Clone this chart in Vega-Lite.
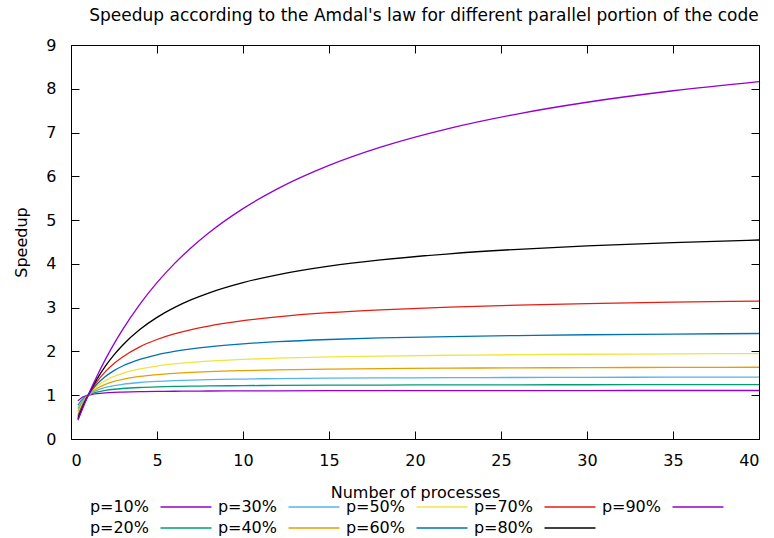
{
  "$schema": "https://vega.github.io/schema/vega-lite/v6.json",
  "width": 688,
  "height": 394,
  "autosize": {"type": "none"},
  "padding": {"left": 71, "top": 45, "right": 15, "bottom": 99},
  "background": "white",
  "config": {
    "font": "DejaVu Sans",
    "view": {"stroke": "black", "strokeWidth": 1},
    "axis": {"grid": false, "domain": false, "tickColor": "black", "tickSize": -8, "tickWidth": 1, "labelFontSize": 16, "labelColor": "black", "titleFontSize": 16, "titleFontWeight": "normal", "titleColor": "black", "labelFont": "DejaVu Sans", "titleFont": "DejaVu Sans"},
    "legend": {"labelFont": "DejaVu Sans"}
  },
  "title": {"text": "Speedup according to the Amdal's law  for different parallel portion of the code", "fontSize": 17, "fontWeight": "normal", "font": "DejaVu Sans", "color": "black", "anchor": "middle", "frame": "group", "baseline": "alphabetic", "offset": -1, "dx": 9},
  "data": {"values": [
    {"x":0.404,"p":"p=10%","s":0.8714},{"x":0.6,"p":"p=10%","s":0.9375},{"x":0.8,"p":"p=10%","s":0.9756},{"x":1,"p":"p=10%","s":1},{"x":1.25,"p":"p=10%","s":1.0204},{"x":1.5,"p":"p=10%","s":1.0345},{"x":2,"p":"p=10%","s":1.0526},{"x":2.5,"p":"p=10%","s":1.0638},{"x":3,"p":"p=10%","s":1.0714},{"x":4,"p":"p=10%","s":1.0811},{"x":5,"p":"p=10%","s":1.087},{"x":6,"p":"p=10%","s":1.0909},{"x":7,"p":"p=10%","s":1.0938},{"x":8,"p":"p=10%","s":1.0959},{"x":10,"p":"p=10%","s":1.0989},{"x":12,"p":"p=10%","s":1.1009},{"x":15,"p":"p=10%","s":1.1029},{"x":18,"p":"p=10%","s":1.1043},{"x":22,"p":"p=10%","s":1.1055},{"x":26,"p":"p=10%","s":1.1064},{"x":30,"p":"p=10%","s":1.107},{"x":35,"p":"p=10%","s":1.1076},{"x":40,"p":"p=10%","s":1.108},
    {"x":0.404,"p":"p=20%","s":0.7722},{"x":0.6,"p":"p=20%","s":0.8824},{"x":0.8,"p":"p=20%","s":0.9524},{"x":1,"p":"p=20%","s":1},{"x":1.25,"p":"p=20%","s":1.0417},{"x":1.5,"p":"p=20%","s":1.0714},{"x":2,"p":"p=20%","s":1.1111},{"x":2.5,"p":"p=20%","s":1.1364},{"x":3,"p":"p=20%","s":1.1538},{"x":4,"p":"p=20%","s":1.1765},{"x":5,"p":"p=20%","s":1.1905},{"x":6,"p":"p=20%","s":1.2},{"x":7,"p":"p=20%","s":1.2069},{"x":8,"p":"p=20%","s":1.2121},{"x":10,"p":"p=20%","s":1.2195},{"x":12,"p":"p=20%","s":1.2245},{"x":15,"p":"p=20%","s":1.2295},{"x":18,"p":"p=20%","s":1.2329},{"x":22,"p":"p=20%","s":1.236},{"x":26,"p":"p=20%","s":1.2381},{"x":30,"p":"p=20%","s":1.2397},{"x":35,"p":"p=20%","s":1.2411},{"x":40,"p":"p=20%","s":1.2422},
    {"x":0.404,"p":"p=30%","s":0.6932},{"x":0.6,"p":"p=30%","s":0.8333},{"x":0.8,"p":"p=30%","s":0.9302},{"x":1,"p":"p=30%","s":1},{"x":1.25,"p":"p=30%","s":1.0638},{"x":1.5,"p":"p=30%","s":1.1111},{"x":2,"p":"p=30%","s":1.1765},{"x":2.5,"p":"p=30%","s":1.2195},{"x":3,"p":"p=30%","s":1.25},{"x":4,"p":"p=30%","s":1.2903},{"x":5,"p":"p=30%","s":1.3158},{"x":6,"p":"p=30%","s":1.3333},{"x":7,"p":"p=30%","s":1.3462},{"x":8,"p":"p=30%","s":1.3559},{"x":10,"p":"p=30%","s":1.3699},{"x":12,"p":"p=30%","s":1.3793},{"x":15,"p":"p=30%","s":1.3889},{"x":18,"p":"p=30%","s":1.3953},{"x":22,"p":"p=30%","s":1.4013},{"x":26,"p":"p=30%","s":1.4054},{"x":30,"p":"p=30%","s":1.4085},{"x":35,"p":"p=30%","s":1.4113},{"x":40,"p":"p=30%","s":1.4134},
    {"x":0.404,"p":"p=40%","s":0.6289},{"x":0.6,"p":"p=40%","s":0.7895},{"x":0.8,"p":"p=40%","s":0.9091},{"x":1,"p":"p=40%","s":1},{"x":1.25,"p":"p=40%","s":1.087},{"x":1.5,"p":"p=40%","s":1.1538},{"x":2,"p":"p=40%","s":1.25},{"x":2.5,"p":"p=40%","s":1.3158},{"x":3,"p":"p=40%","s":1.3636},{"x":4,"p":"p=40%","s":1.4286},{"x":5,"p":"p=40%","s":1.4706},{"x":6,"p":"p=40%","s":1.5},{"x":7,"p":"p=40%","s":1.5217},{"x":8,"p":"p=40%","s":1.5385},{"x":10,"p":"p=40%","s":1.5625},{"x":12,"p":"p=40%","s":1.5789},{"x":15,"p":"p=40%","s":1.5957},{"x":18,"p":"p=40%","s":1.6071},{"x":22,"p":"p=40%","s":1.6176},{"x":26,"p":"p=40%","s":1.625},{"x":30,"p":"p=40%","s":1.6304},{"x":35,"p":"p=40%","s":1.6355},{"x":40,"p":"p=40%","s":1.6393},
    {"x":0.404,"p":"p=50%","s":0.5755},{"x":0.6,"p":"p=50%","s":0.75},{"x":0.8,"p":"p=50%","s":0.8889},{"x":1,"p":"p=50%","s":1},{"x":1.25,"p":"p=50%","s":1.1111},{"x":1.5,"p":"p=50%","s":1.2},{"x":2,"p":"p=50%","s":1.3333},{"x":2.5,"p":"p=50%","s":1.4286},{"x":3,"p":"p=50%","s":1.5},{"x":4,"p":"p=50%","s":1.6},{"x":5,"p":"p=50%","s":1.6667},{"x":6,"p":"p=50%","s":1.7143},{"x":7,"p":"p=50%","s":1.75},{"x":8,"p":"p=50%","s":1.7778},{"x":10,"p":"p=50%","s":1.8182},{"x":12,"p":"p=50%","s":1.8462},{"x":15,"p":"p=50%","s":1.875},{"x":18,"p":"p=50%","s":1.8947},{"x":22,"p":"p=50%","s":1.913},{"x":26,"p":"p=50%","s":1.9259},{"x":30,"p":"p=50%","s":1.9355},{"x":35,"p":"p=50%","s":1.9444},{"x":40,"p":"p=50%","s":1.9512},
    {"x":0.404,"p":"p=60%","s":0.5305},{"x":0.6,"p":"p=60%","s":0.7143},{"x":0.8,"p":"p=60%","s":0.8696},{"x":1,"p":"p=60%","s":1},{"x":1.25,"p":"p=60%","s":1.1364},{"x":1.5,"p":"p=60%","s":1.25},{"x":2,"p":"p=60%","s":1.4286},{"x":2.5,"p":"p=60%","s":1.5625},{"x":3,"p":"p=60%","s":1.6667},{"x":4,"p":"p=60%","s":1.8182},{"x":5,"p":"p=60%","s":1.9231},{"x":6,"p":"p=60%","s":2},{"x":7,"p":"p=60%","s":2.0588},{"x":8,"p":"p=60%","s":2.1053},{"x":10,"p":"p=60%","s":2.1739},{"x":12,"p":"p=60%","s":2.2222},{"x":15,"p":"p=60%","s":2.2727},{"x":18,"p":"p=60%","s":2.3077},{"x":22,"p":"p=60%","s":2.3404},{"x":26,"p":"p=60%","s":2.3636},{"x":30,"p":"p=60%","s":2.381},{"x":35,"p":"p=60%","s":2.3973},{"x":40,"p":"p=60%","s":2.4096},
    {"x":0.404,"p":"p=70%","s":0.492},{"x":0.6,"p":"p=70%","s":0.6818},{"x":0.8,"p":"p=70%","s":0.8511},{"x":1,"p":"p=70%","s":1},{"x":1.25,"p":"p=70%","s":1.1628},{"x":1.5,"p":"p=70%","s":1.3043},{"x":2,"p":"p=70%","s":1.5385},{"x":2.5,"p":"p=70%","s":1.7241},{"x":3,"p":"p=70%","s":1.875},{"x":4,"p":"p=70%","s":2.1053},{"x":5,"p":"p=70%","s":2.2727},{"x":6,"p":"p=70%","s":2.4},{"x":7,"p":"p=70%","s":2.5},{"x":8,"p":"p=70%","s":2.5806},{"x":10,"p":"p=70%","s":2.7027},{"x":12,"p":"p=70%","s":2.7907},{"x":15,"p":"p=70%","s":2.8846},{"x":18,"p":"p=70%","s":2.9508},{"x":22,"p":"p=70%","s":3.0137},{"x":26,"p":"p=70%","s":3.0588},{"x":30,"p":"p=70%","s":3.0928},{"x":35,"p":"p=70%","s":3.125},{"x":40,"p":"p=70%","s":3.1496},
    {"x":0.404,"p":"p=80%","s":0.4587},{"x":0.6,"p":"p=80%","s":0.6522},{"x":0.8,"p":"p=80%","s":0.8333},{"x":1,"p":"p=80%","s":1},{"x":1.25,"p":"p=80%","s":1.1905},{"x":1.5,"p":"p=80%","s":1.3636},{"x":2,"p":"p=80%","s":1.6667},{"x":2.5,"p":"p=80%","s":1.9231},{"x":3,"p":"p=80%","s":2.1429},{"x":4,"p":"p=80%","s":2.5},{"x":5,"p":"p=80%","s":2.7778},{"x":6,"p":"p=80%","s":3},{"x":7,"p":"p=80%","s":3.1818},{"x":8,"p":"p=80%","s":3.3333},{"x":10,"p":"p=80%","s":3.5714},{"x":12,"p":"p=80%","s":3.75},{"x":15,"p":"p=80%","s":3.9474},{"x":18,"p":"p=80%","s":4.0909},{"x":22,"p":"p=80%","s":4.2308},{"x":26,"p":"p=80%","s":4.3333},{"x":30,"p":"p=80%","s":4.4118},{"x":35,"p":"p=80%","s":4.4872},{"x":40,"p":"p=80%","s":4.5455},
    {"x":0.404,"p":"p=90%","s":0.4296},{"x":0.6,"p":"p=90%","s":0.625},{"x":0.8,"p":"p=90%","s":0.8163},{"x":1,"p":"p=90%","s":1},{"x":1.25,"p":"p=90%","s":1.2195},{"x":1.5,"p":"p=90%","s":1.4286},{"x":2,"p":"p=90%","s":1.8182},{"x":2.5,"p":"p=90%","s":2.1739},{"x":3,"p":"p=90%","s":2.5},{"x":4,"p":"p=90%","s":3.0769},{"x":5,"p":"p=90%","s":3.5714},{"x":6,"p":"p=90%","s":4},{"x":7,"p":"p=90%","s":4.375},{"x":8,"p":"p=90%","s":4.7059},{"x":10,"p":"p=90%","s":5.2632},{"x":12,"p":"p=90%","s":5.7143},{"x":15,"p":"p=90%","s":6.25},{"x":18,"p":"p=90%","s":6.6667},{"x":22,"p":"p=90%","s":7.0968},{"x":26,"p":"p=90%","s":7.4286},{"x":30,"p":"p=90%","s":7.6923},{"x":35,"p":"p=90%","s":7.9545},{"x":40,"p":"p=90%","s":8.1633}
  ]},
  "layer": [
    {
      "mark": {"type": "line", "interpolate": "monotone", "strokeWidth": 1.3},
      "encoding": {
        "x": {"field": "x", "type": "quantitative", "scale": {"domain": [0, 40], "nice": false, "zero": false},
              "axis": {"orient": "bottom", "values": [0,5,10,15,20,25,30,35,40], "labelPadding": 21, "title": "Number of processes", "titleX": 344, "titleY": 58, "titleBaseline": "alphabetic", "titleAnchor": "middle"}},
        "y": {"field": "s", "type": "quantitative", "scale": {"domain": [0, 9], "nice": false, "zero": false},
              "axis": {"orient": "left", "values": [0,1,2,3,4,5,6,7,8,9], "labelPadding": 23, "title": "Speedup", "titleX": -45, "titleY": 197, "titleAngle": -90, "titleBaseline": "alphabetic", "titleAlign": "center"}},
        "color": {"field": "p", "type": "nominal",
                  "scale": {"domain": ["p=10%","p=30%","p=50%","p=70%","p=90%","p=20%","p=40%","p=60%","p=80%"],
                            "range": ["#9400d3","#56b4e9","#f0e442","#e51e10","#9400d3","#009e73","#e69f00","#0072b2","#000000"]},
                  "legend": {"title": null, "orient": "none", "legendX": 107, "legendY": 454, "direction": "horizontal", "columns": 5,
                             "symbolType": "M-5,0H5", "symbolSize": 104, "symbolStrokeWidth": 1.5, "labelFontSize": 16, "labelColor": "black",
                             "labelAlign": "right", "labelOffset": -45, "labelLimit": 200, "columnPadding": 2, "rowPadding": 5, "padding": 0, "symbolOffset": 0}}
      }
    },
    {
      "mark": {"type": "line", "strokeOpacity": 0},
      "encoding": {
        "x": {"field": "x", "type": "quantitative", "axis": {"orient": "top", "values": [0,5,10,15,20,25,30,35,40], "labels": false, "title": null}},
        "y": {"field": "s", "type": "quantitative", "axis": {"orient": "right", "values": [0,1,2,3,4,5,6,7,8,9], "labels": false, "title": null}},
        "detail": {"field": "p"}
      }
    }
  ],
  "resolve": {"axis": {"x": "independent", "y": "independent"}}
}
